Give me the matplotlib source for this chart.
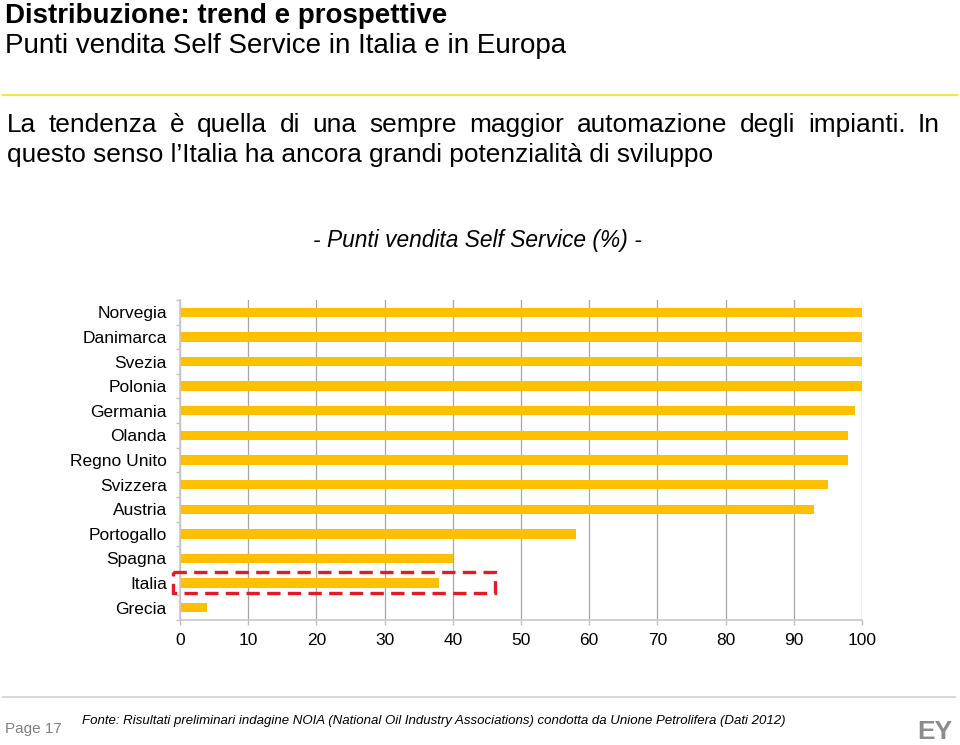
import matplotlib
matplotlib.use("Agg")
import matplotlib.pyplot as plt
from matplotlib.patches import Rectangle
from matplotlib.lines import Line2D

plt.rcParams["font.family"] = ["Liberation Sans", "DejaVu Sans"]

# ---------- data ----------
paesi = ["Norvegia", "Danimarca", "Svezia", "Polonia", "Germania", "Olanda",
         "Regno Unito", "Svizzera", "Austria", "Portogallo", "Spagna",
         "Italia", "Grecia"]
self_service = [100, 100, 100, 100, 99, 98, 98, 95, 93, 58, 40, 38, 4]
x_ticks = [0, 10, 20, 30, 40, 50, 60, 70, 80, 90, 100]
evidenziato = "Italia"

W, H = 960, 745
BAR = "#FFC000"

fig = plt.figure(figsize=(W / 100, H / 100), dpi=100)
renderer = fig.canvas.get_renderer()


def put(s, x, y, width=None, size=12, max_size=None, **kw):
    """text at pixel coords (baseline); optionally scale size to a pixel width"""
    t = fig.text(x / W, 1 - y / H, s, fontsize=size, va="baseline", **kw)
    if width:
        w = t.get_window_extent(renderer).width
        new = size * width / w
        if max_size:
            new = min(new, max_size)
        t.set_fontsize(new)
    return t


def hline(y, x0, x1, color, lw):
    fig.add_artist(Line2D([x0 / W, x1 / W], [1 - y / H, 1 - y / H],
                          color=color, lw=lw, transform=fig.transFigure))


# ---------- header ----------
put("Distribuzione: trend e prospettive", 5, 23, width=513, max_size=20,
    weight="bold")
put("Punti vendita Self Service in Italia e in Europa", 5, 53, width=651,
    max_size=20)
hline(95, 3, 957, "#F3E54A", 1.6)

# paragraph: line 2 sets the size, line 1 is justified
t2 = put("questo senso l\u2019Italia ha ancora grandi potenzialità di sviluppo",
         7, 162, width=709)
fs = t2.get_fontsize()
parole = "La tendenza è quella di una sempre maggior automazione degli impianti. In".split()
pezzi = [put(p, 0, 132, size=fs) for p in parole]
larg = [p.get_window_extent(renderer).width for p in pezzi]
gap = (940 - 7 - sum(larg)) / (len(parole) - 1)
x = 7
for p, w in zip(pezzi, larg):
    p.set_x(x / W)
    x += w + gap

put("- Punti vendita Self Service (%) -", 313, 247, width=329, style="italic")

# ---------- chart ----------
ax = fig.add_axes([180 / W, 1 - 620 / H, (862 - 180) / W, 320 / H])
pos = list(range(len(paesi)))
ax.barh(pos, self_service, height=0.38, color=BAR, zorder=2)
ax.set_xlim(0, 100)
ax.set_ylim(len(paesi) - 0.5, -0.5)
ax.set_xticks(x_ticks)
ax.set_xticklabels([str(v) for v in x_ticks], fontsize=12.5)
ax.set_yticks(pos)
ax.set_yticklabels(paesi, fontsize=12.5)
ax.set_yticks([p - 0.5 for p in range(len(paesi) + 1)], minor=True)
ax.tick_params(axis="y", which="major", length=0, pad=9.5)
ax.tick_params(axis="y", which="minor", length=3, color="#BFBFBF", width=1)
ax.tick_params(axis="x", length=3.5, color="#BFBFBF", width=1, pad=6)
ax.grid(axis="x", color="#A6A6A6", lw=0.9, zorder=0)
for s in ["top", "right"]:
    ax.spines[s].set_visible(False)
for s in ["left", "bottom"]:
    ax.spines[s].set_color("#C8C8C8")
    ax.spines[s].set_linewidth(1.2)

# red dashed box around Italia
i = paesi.index(evidenziato)
ax.add_patch(Rectangle((-1.0, i - 0.43), 47.2, 0.84, fill=False,
                       edgecolor="#E31B23", lw=2.4, linestyle=(0, (4, 2.2)),
                       clip_on=False, zorder=3))

# ---------- footer ----------
hline(697, 3, 955, "#D9D9D9", 1.5)
put("Page 17", 5, 733, width=57, color="#808080")
put("Fonte: Risultati preliminari indagine NOIA (National Oil Industry Associations) "
    "condotta da Unione Petrolifera (Dati 2012)", 82, 724, width=701, style="italic")
put("EY", 952, 739, size=19, weight="bold", color="#8C8C8C", ha="right")

fig.savefig("out.png", dpi=100)
